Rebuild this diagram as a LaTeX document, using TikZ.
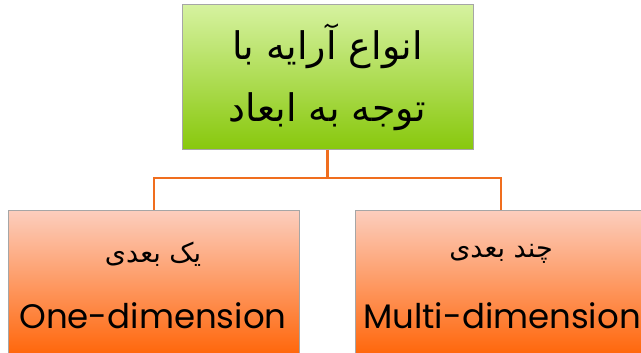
\documentclass[tikz,border=0pt]{standalone}
\usepackage{fontspec}
\setmainfont{Poppins}
\newfontfamily\arabicfont[Script=Arabic]{DejaVu Sans}
\TeXXeTstate=1
\usetikzlibrary{positioning}
\definecolor{rootlight}{RGB}{214,242,160}
\definecolor{rootdark}{RGB}{136,200,12}
\definecolor{leaflight}{RGB}{252,206,190}
\definecolor{leafdark}{RGB}{255,102,10}
\definecolor{linkorange}{RGB}{240,110,30}

\begin{document}
\begin{tikzpicture}[x=1pt,y=-1pt]
\tikzstyle{box}=[rectangle, draw=black!35, minimum width=291pt, minimum height=145pt, inner sep=0pt]
\tikzstyle{root}=[box, top color=rootlight, bottom color=rootdark]
\tikzstyle{leaf}=[box, top color=leaflight, bottom color=leafdark]
\tikzstyle{connect}=[draw=linkorange, line width=2.6pt]
\useasboundingbox (0,0) rectangle (641,353);
    \node[root, align=center, font=\arabicfont\fontsize{38}{62}\selectfont] (types) at (327.5,77)
        {\beginR انواع آرایه با\endR\\\beginR توجه به ابعاد\endR};
    \node[leaf] (one) at (154,282.5) {};
    \node[leaf] (multi) at (501,282.5) {};
    \node[font=\arabicfont\fontsize{27}{30}\selectfont] (oneFa) at (153,254) {\beginR یک بعدی\endR};
    \node[font=\fontsize{34}{40}\selectfont] (oneEn) at (153,316) {One-dimension};
    \node[font=\arabicfont\fontsize{27}{30}\selectfont] (multiFa) at (501,254) {\beginR چند بعدی\endR};
    \node[font=\fontsize{34}{40}\selectfont] (multiEn) at (502,316) {Multi-dimension};
    \coordinate (split) at (327.5,178);
    \draw[connect] (types.south) -- (split);
    \draw[connect] (split) -| (one.north);
    \draw[connect] (split) -| (multi.north);
\end{tikzpicture}
\end{document}
